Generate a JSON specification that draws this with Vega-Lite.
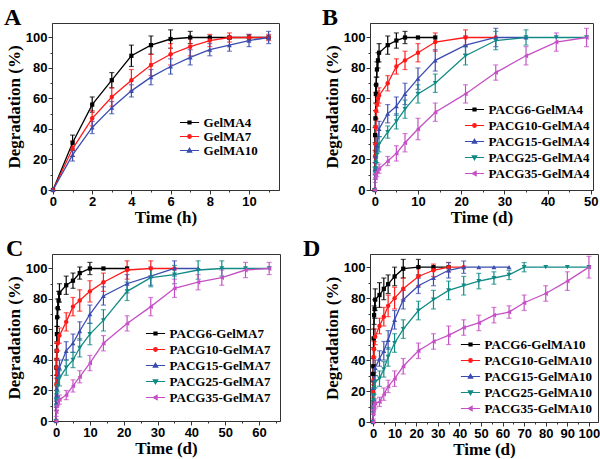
{
"$schema": "https://vega.github.io/schema/vega-lite/v6.json",
"padding": {"left": 3, "top": 5, "right": 0, "bottom": 0},
"background": "white",
"config": {
 "font": "Liberation Sans",
 "view": {"stroke": "#333", "strokeWidth": 1},
 "axis": {"grid": false, "labelFont": "Liberation Sans", "labelFontWeight": "bold", "labelFontSize": 13, "labelColor": "#000", "titleFont": "Liberation Serif", "titleFontWeight": "bold", "titleFontSize": 17, "titleColor": "#000", "domainColor": "#333", "tickColor": "#333", "labelPadding": 1, "titlePadding": 2, "labelOverlap": false, "labelFlush": false},
 "axisX": {"titlePadding": 1},
 "title": {"font": "Liberation Serif", "fontSize": 24, "fontWeight": "bold", "anchor": "start", "frame": "group", "offset": -7, "color": "#000"},
 "legend": {"orient": "none", "symbolSize": 64, "symbolStrokeWidth": 1.2, "labelOffset": 7.6, "padding": 0, "symbolOpacity": 1, "labelFont": "Liberation Serif", "labelFontWeight": "bold", "labelFontSize": 13, "labelColor": "#000"}
},
"resolve": {"scale": {"color": "independent", "fill": "independent", "stroke": "independent", "shape": "independent"}, "legend": {"color": "independent", "fill": "independent", "stroke": "independent", "shape": "independent"}},
"datasets": {
 "A": [
  {"s":"GelMA4","x":0,"y":0,"e":0},{"s":"GelMA4","x":1,"y":31,"e":5},{"s":"GelMA4","x":2,"y":56,"e":5},{"s":"GelMA4","x":3,"y":72,"e":5},{"s":"GelMA4","x":4,"y":88,"e":7},{"s":"GelMA4","x":5,"y":95,"e":6},{"s":"GelMA4","x":6,"y":99,"e":6},{"s":"GelMA4","x":7,"y":100,"e":4},{"s":"GelMA4","x":8,"y":100,"e":0},{"s":"GelMA4","x":9,"y":100,"e":0},{"s":"GelMA4","x":10,"y":100,"e":0},{"s":"GelMA4","x":11,"y":100,"e":0},
  {"s":"GelMA7","x":0,"y":0,"e":0},{"s":"GelMA7","x":1,"y":27,"e":5},{"s":"GelMA7","x":2,"y":47,"e":5},{"s":"GelMA7","x":3,"y":61,"e":6},{"s":"GelMA7","x":4,"y":72,"e":7},{"s":"GelMA7","x":5,"y":82,"e":7},{"s":"GelMA7","x":6,"y":89,"e":7},{"s":"GelMA7","x":7,"y":94,"e":6},{"s":"GelMA7","x":8,"y":98,"e":4},{"s":"GelMA7","x":9,"y":100,"e":3},{"s":"GelMA7","x":10,"y":100,"e":2},{"s":"GelMA7","x":11,"y":100,"e":2},
  {"s":"GelMA10","x":0,"y":0,"e":0},{"s":"GelMA10","x":1,"y":23,"e":4},{"s":"GelMA10","x":2,"y":41,"e":4},{"s":"GelMA10","x":3,"y":54,"e":4},{"s":"GelMA10","x":4,"y":65,"e":4},{"s":"GelMA10","x":5,"y":74,"e":5},{"s":"GelMA10","x":6,"y":81,"e":5},{"s":"GelMA10","x":7,"y":87,"e":5},{"s":"GelMA10","x":8,"y":92,"e":4},{"s":"GelMA10","x":9,"y":95,"e":4},{"s":"GelMA10","x":10,"y":98,"e":4},{"s":"GelMA10","x":11,"y":100,"e":4}
 ],
 "B": [
  {"s":"PACG6-GelMA4","x":0,"y":0,"e":0},{"s":"PACG6-GelMA4","x":0.08,"y":36,"e":5},{"s":"PACG6-GelMA4","x":0.17,"y":47,"e":5},{"s":"PACG6-GelMA4","x":0.25,"y":63,"e":6},{"s":"PACG6-GelMA4","x":0.33,"y":69,"e":5},{"s":"PACG6-GelMA4","x":0.5,"y":79,"e":5},{"s":"PACG6-GelMA4","x":0.75,"y":85,"e":5},{"s":"PACG6-GelMA4","x":1,"y":90,"e":6},{"s":"PACG6-GelMA4","x":3,"y":95,"e":6},{"s":"PACG6-GelMA4","x":5,"y":98,"e":5},{"s":"PACG6-GelMA4","x":7,"y":100,"e":4},{"s":"PACG6-GelMA4","x":10,"y":100,"e":0},{"s":"PACG6-GelMA4","x":14,"y":100,"e":0},
  {"s":"PACG10-GelMA4","x":0,"y":0,"e":0},{"s":"PACG10-GelMA4","x":0.08,"y":22,"e":4},{"s":"PACG10-GelMA4","x":0.17,"y":30,"e":5},{"s":"PACG10-GelMA4","x":0.25,"y":41,"e":5},{"s":"PACG10-GelMA4","x":0.33,"y":52,"e":5},{"s":"PACG10-GelMA4","x":0.5,"y":56,"e":5},{"s":"PACG10-GelMA4","x":0.75,"y":60,"e":5},{"s":"PACG10-GelMA4","x":1,"y":62,"e":5},{"s":"PACG10-GelMA4","x":3,"y":70,"e":5},{"s":"PACG10-GelMA4","x":5,"y":81,"e":5},{"s":"PACG10-GelMA4","x":7,"y":85,"e":6},{"s":"PACG10-GelMA4","x":10,"y":90,"e":6},{"s":"PACG10-GelMA4","x":14,"y":97,"e":6},{"s":"PACG10-GelMA4","x":21,"y":100,"e":5},{"s":"PACG10-GelMA4","x":28,"y":100,"e":0},
  {"s":"PACG15-GelMA4","x":0,"y":0,"e":0},{"s":"PACG15-GelMA4","x":0.08,"y":14,"e":4},{"s":"PACG15-GelMA4","x":0.17,"y":19,"e":4},{"s":"PACG15-GelMA4","x":0.25,"y":22,"e":4},{"s":"PACG15-GelMA4","x":0.5,"y":29,"e":5},{"s":"PACG15-GelMA4","x":1,"y":40,"e":5},{"s":"PACG15-GelMA4","x":3,"y":50,"e":6},{"s":"PACG15-GelMA4","x":5,"y":55,"e":6},{"s":"PACG15-GelMA4","x":7,"y":63,"e":7},{"s":"PACG15-GelMA4","x":10,"y":73,"e":7},{"s":"PACG15-GelMA4","x":14,"y":85,"e":7},{"s":"PACG15-GelMA4","x":21,"y":95,"e":6},{"s":"PACG15-GelMA4","x":28,"y":100,"e":6},{"s":"PACG15-GelMA4","x":35,"y":100,"e":0},
  {"s":"PACG25-GelMA4","x":0,"y":0,"e":0},{"s":"PACG25-GelMA4","x":0.08,"y":11,"e":4},{"s":"PACG25-GelMA4","x":0.17,"y":14,"e":4},{"s":"PACG25-GelMA4","x":0.25,"y":18,"e":4},{"s":"PACG25-GelMA4","x":0.5,"y":23,"e":5},{"s":"PACG25-GelMA4","x":1,"y":30,"e":5},{"s":"PACG25-GelMA4","x":3,"y":38,"e":4},{"s":"PACG25-GelMA4","x":5,"y":45,"e":5},{"s":"PACG25-GelMA4","x":7,"y":53,"e":6},{"s":"PACG25-GelMA4","x":10,"y":63,"e":6},{"s":"PACG25-GelMA4","x":14,"y":70,"e":6},{"s":"PACG25-GelMA4","x":21,"y":88,"e":6},{"s":"PACG25-GelMA4","x":28,"y":98,"e":6},{"s":"PACG25-GelMA4","x":35,"y":100,"e":5},{"s":"PACG25-GelMA4","x":42,"y":100,"e":0},{"s":"PACG25-GelMA4","x":49,"y":100,"e":0},
  {"s":"PACG35-GelMA4","x":0,"y":0,"e":0},{"s":"PACG35-GelMA4","x":0.08,"y":8,"e":3},{"s":"PACG35-GelMA4","x":0.17,"y":10,"e":3},{"s":"PACG35-GelMA4","x":0.25,"y":11,"e":3},{"s":"PACG35-GelMA4","x":0.5,"y":12,"e":3},{"s":"PACG35-GelMA4","x":1,"y":14,"e":3},{"s":"PACG35-GelMA4","x":3,"y":19,"e":3},{"s":"PACG35-GelMA4","x":5,"y":24,"e":5},{"s":"PACG35-GelMA4","x":7,"y":31,"e":6},{"s":"PACG35-GelMA4","x":10,"y":40,"e":7},{"s":"PACG35-GelMA4","x":14,"y":51,"e":6},{"s":"PACG35-GelMA4","x":21,"y":63,"e":6},{"s":"PACG35-GelMA4","x":28,"y":77,"e":5},{"s":"PACG35-GelMA4","x":35,"y":88,"e":6},{"s":"PACG35-GelMA4","x":42,"y":97,"e":6},{"s":"PACG35-GelMA4","x":49,"y":100,"e":6}
 ],
 "C": [
  {"s":"PACG6-GelMA7","x":0,"y":0,"e":0},{"s":"PACG6-GelMA7","x":0.08,"y":35,"e":5},{"s":"PACG6-GelMA7","x":0.17,"y":46,"e":5},{"s":"PACG6-GelMA7","x":0.25,"y":57,"e":5},{"s":"PACG6-GelMA7","x":0.33,"y":68,"e":6},{"s":"PACG6-GelMA7","x":0.5,"y":74,"e":6},{"s":"PACG6-GelMA7","x":0.75,"y":79,"e":6},{"s":"PACG6-GelMA7","x":1,"y":84,"e":6},{"s":"PACG6-GelMA7","x":3,"y":89,"e":6},{"s":"PACG6-GelMA7","x":5,"y":92,"e":5},{"s":"PACG6-GelMA7","x":7,"y":97,"e":4},{"s":"PACG6-GelMA7","x":10,"y":100,"e":4},{"s":"PACG6-GelMA7","x":14,"y":100,"e":0},{"s":"PACG6-GelMA7","x":21,"y":100,"e":0},
  {"s":"PACG10-GelMA7","x":0,"y":0,"e":0},{"s":"PACG10-GelMA7","x":0.08,"y":24,"e":4},{"s":"PACG10-GelMA7","x":0.17,"y":35,"e":5},{"s":"PACG10-GelMA7","x":0.25,"y":46,"e":5},{"s":"PACG10-GelMA7","x":0.5,"y":51,"e":5},{"s":"PACG10-GelMA7","x":1,"y":56,"e":5},{"s":"PACG10-GelMA7","x":3,"y":65,"e":6},{"s":"PACG10-GelMA7","x":5,"y":75,"e":6},{"s":"PACG10-GelMA7","x":7,"y":79,"e":7},{"s":"PACG10-GelMA7","x":10,"y":85,"e":7},{"s":"PACG10-GelMA7","x":14,"y":91,"e":6},{"s":"PACG10-GelMA7","x":21,"y":99,"e":6},{"s":"PACG10-GelMA7","x":28,"y":100,"e":5},{"s":"PACG10-GelMA7","x":35,"y":100,"e":0},
  {"s":"PACG15-GelMA7","x":0,"y":0,"e":0},{"s":"PACG15-GelMA7","x":0.08,"y":12,"e":3},{"s":"PACG15-GelMA7","x":0.17,"y":17,"e":3},{"s":"PACG15-GelMA7","x":0.25,"y":21,"e":4},{"s":"PACG15-GelMA7","x":0.5,"y":29,"e":5},{"s":"PACG15-GelMA7","x":1,"y":35,"e":5},{"s":"PACG15-GelMA7","x":3,"y":46,"e":6},{"s":"PACG15-GelMA7","x":5,"y":51,"e":6},{"s":"PACG15-GelMA7","x":7,"y":59,"e":6},{"s":"PACG15-GelMA7","x":10,"y":70,"e":6},{"s":"PACG15-GelMA7","x":14,"y":82,"e":6},{"s":"PACG15-GelMA7","x":21,"y":90,"e":6},{"s":"PACG15-GelMA7","x":28,"y":95,"e":6},{"s":"PACG15-GelMA7","x":35,"y":100,"e":5},{"s":"PACG15-GelMA7","x":42,"y":100,"e":0},
  {"s":"PACG25-GelMA7","x":0,"y":0,"e":0},{"s":"PACG25-GelMA7","x":0.08,"y":10,"e":3},{"s":"PACG25-GelMA7","x":0.17,"y":14,"e":4},{"s":"PACG25-GelMA7","x":0.25,"y":19,"e":4},{"s":"PACG25-GelMA7","x":0.5,"y":23,"e":4},{"s":"PACG25-GelMA7","x":1,"y":28,"e":5},{"s":"PACG25-GelMA7","x":3,"y":35,"e":5},{"s":"PACG25-GelMA7","x":5,"y":40,"e":5},{"s":"PACG25-GelMA7","x":7,"y":48,"e":6},{"s":"PACG25-GelMA7","x":10,"y":57,"e":7},{"s":"PACG25-GelMA7","x":14,"y":66,"e":7},{"s":"PACG25-GelMA7","x":21,"y":85,"e":6},{"s":"PACG25-GelMA7","x":28,"y":94,"e":6},{"s":"PACG25-GelMA7","x":35,"y":96,"e":6},{"s":"PACG25-GelMA7","x":42,"y":99,"e":6},{"s":"PACG25-GelMA7","x":49,"y":100,"e":5},{"s":"PACG25-GelMA7","x":56,"y":100,"e":0},{"s":"PACG25-GelMA7","x":63,"y":100,"e":0},
  {"s":"PACG35-GelMA7","x":0,"y":0,"e":0},{"s":"PACG35-GelMA7","x":0.08,"y":6,"e":3},{"s":"PACG35-GelMA7","x":0.17,"y":10,"e":3},{"s":"PACG35-GelMA7","x":0.5,"y":13,"e":3},{"s":"PACG35-GelMA7","x":1,"y":14,"e":3},{"s":"PACG35-GelMA7","x":3,"y":17,"e":3},{"s":"PACG35-GelMA7","x":5,"y":23,"e":4},{"s":"PACG35-GelMA7","x":7,"y":29,"e":4},{"s":"PACG35-GelMA7","x":10,"y":38,"e":5},{"s":"PACG35-GelMA7","x":14,"y":51,"e":5},{"s":"PACG35-GelMA7","x":21,"y":64,"e":5},{"s":"PACG35-GelMA7","x":28,"y":75,"e":6},{"s":"PACG35-GelMA7","x":35,"y":87,"e":6},{"s":"PACG35-GelMA7","x":42,"y":91,"e":5},{"s":"PACG35-GelMA7","x":49,"y":94,"e":5},{"s":"PACG35-GelMA7","x":56,"y":99,"e":5},{"s":"PACG35-GelMA7","x":63,"y":100,"e":4}
 ],
 "D": [
  {"s":"PACG6-GelMA10","x":0,"y":0,"e":0},{"s":"PACG6-GelMA10","x":0.08,"y":31,"e":5},{"s":"PACG6-GelMA10","x":0.17,"y":36,"e":5},{"s":"PACG6-GelMA10","x":0.25,"y":54,"e":6},{"s":"PACG6-GelMA10","x":0.5,"y":69,"e":6},{"s":"PACG6-GelMA10","x":0.75,"y":73,"e":6},{"s":"PACG6-GelMA10","x":1,"y":79,"e":7},{"s":"PACG6-GelMA10","x":3,"y":82,"e":8},{"s":"PACG6-GelMA10","x":5,"y":86,"e":7},{"s":"PACG6-GelMA10","x":7,"y":89,"e":6},{"s":"PACG6-GelMA10","x":10,"y":94,"e":6},{"s":"PACG6-GelMA10","x":14,"y":99,"e":6},{"s":"PACG6-GelMA10","x":21,"y":100,"e":5},{"s":"PACG6-GelMA10","x":28,"y":100,"e":0},{"s":"PACG6-GelMA10","x":35,"y":100,"e":0},
  {"s":"PACG10-GelMA10","x":0,"y":0,"e":0},{"s":"PACG10-GelMA10","x":0.08,"y":20,"e":4},{"s":"PACG10-GelMA10","x":0.17,"y":27,"e":5},{"s":"PACG10-GelMA10","x":0.25,"y":42,"e":5},{"s":"PACG10-GelMA10","x":0.5,"y":47,"e":5},{"s":"PACG10-GelMA10","x":1,"y":55,"e":5},{"s":"PACG10-GelMA10","x":3,"y":62,"e":5},{"s":"PACG10-GelMA10","x":5,"y":68,"e":6},{"s":"PACG10-GelMA10","x":7,"y":75,"e":7},{"s":"PACG10-GelMA10","x":10,"y":80,"e":7},{"s":"PACG10-GelMA10","x":14,"y":86,"e":7},{"s":"PACG10-GelMA10","x":21,"y":94,"e":6},{"s":"PACG10-GelMA10","x":28,"y":98,"e":4},{"s":"PACG10-GelMA10","x":35,"y":100,"e":3},{"s":"PACG10-GelMA10","x":42,"y":100,"e":0},
  {"s":"PACG15-GelMA10","x":0,"y":0,"e":0},{"s":"PACG15-GelMA10","x":0.08,"y":10,"e":3},{"s":"PACG15-GelMA10","x":0.17,"y":15,"e":4},{"s":"PACG15-GelMA10","x":0.25,"y":22,"e":4},{"s":"PACG15-GelMA10","x":0.5,"y":27,"e":5},{"s":"PACG15-GelMA10","x":1,"y":35,"e":5},{"s":"PACG15-GelMA10","x":3,"y":41,"e":5},{"s":"PACG15-GelMA10","x":5,"y":46,"e":6},{"s":"PACG15-GelMA10","x":7,"y":53,"e":6},{"s":"PACG15-GelMA10","x":10,"y":66,"e":6},{"s":"PACG15-GelMA10","x":14,"y":79,"e":6},{"s":"PACG15-GelMA10","x":21,"y":88,"e":5},{"s":"PACG15-GelMA10","x":28,"y":93,"e":5},{"s":"PACG15-GelMA10","x":35,"y":98,"e":5},{"s":"PACG15-GelMA10","x":42,"y":100,"e":4},{"s":"PACG15-GelMA10","x":49,"y":100,"e":0},{"s":"PACG15-GelMA10","x":56,"y":100,"e":0},{"s":"PACG15-GelMA10","x":63,"y":100,"e":0},
  {"s":"PACG25-GelMA10","x":0,"y":0,"e":0},{"s":"PACG25-GelMA10","x":0.08,"y":9,"e":3},{"s":"PACG25-GelMA10","x":0.17,"y":14,"e":3},{"s":"PACG25-GelMA10","x":0.25,"y":17,"e":4},{"s":"PACG25-GelMA10","x":0.5,"y":22,"e":4},{"s":"PACG25-GelMA10","x":1,"y":26,"e":4},{"s":"PACG25-GelMA10","x":3,"y":28,"e":5},{"s":"PACG25-GelMA10","x":5,"y":34,"e":5},{"s":"PACG25-GelMA10","x":7,"y":42,"e":6},{"s":"PACG25-GelMA10","x":10,"y":51,"e":6},{"s":"PACG25-GelMA10","x":14,"y":60,"e":6},{"s":"PACG25-GelMA10","x":21,"y":72,"e":6},{"s":"PACG25-GelMA10","x":28,"y":79,"e":6},{"s":"PACG25-GelMA10","x":35,"y":85,"e":6},{"s":"PACG25-GelMA10","x":42,"y":88,"e":6},{"s":"PACG25-GelMA10","x":49,"y":91,"e":5},{"s":"PACG25-GelMA10","x":56,"y":93,"e":4},{"s":"PACG25-GelMA10","x":63,"y":95,"e":3},{"s":"PACG25-GelMA10","x":70,"y":100,"e":3},{"s":"PACG25-GelMA10","x":80,"y":100,"e":0},{"s":"PACG25-GelMA10","x":90,"y":100,"e":0},{"s":"PACG25-GelMA10","x":100,"y":100,"e":0},
  {"s":"PACG35-GelMA10","x":0,"y":0,"e":0},{"s":"PACG35-GelMA10","x":0.08,"y":5,"e":3},{"s":"PACG35-GelMA10","x":0.17,"y":8,"e":3},{"s":"PACG35-GelMA10","x":0.25,"y":10,"e":3},{"s":"PACG35-GelMA10","x":0.5,"y":11,"e":3},{"s":"PACG35-GelMA10","x":1,"y":12,"e":3},{"s":"PACG35-GelMA10","x":3,"y":13,"e":3},{"s":"PACG35-GelMA10","x":5,"y":18,"e":4},{"s":"PACG35-GelMA10","x":7,"y":23,"e":4},{"s":"PACG35-GelMA10","x":10,"y":28,"e":5},{"s":"PACG35-GelMA10","x":14,"y":36,"e":5},{"s":"PACG35-GelMA10","x":21,"y":46,"e":5},{"s":"PACG35-GelMA10","x":28,"y":52,"e":5},{"s":"PACG35-GelMA10","x":35,"y":56,"e":6},{"s":"PACG35-GelMA10","x":42,"y":61,"e":5},{"s":"PACG35-GelMA10","x":49,"y":64,"e":5},{"s":"PACG35-GelMA10","x":56,"y":69,"e":5},{"s":"PACG35-GelMA10","x":63,"y":71,"e":4},{"s":"PACG35-GelMA10","x":70,"y":77,"e":5},{"s":"PACG35-GelMA10","x":80,"y":83,"e":5},{"s":"PACG35-GelMA10","x":90,"y":91,"e":6},{"s":"PACG35-GelMA10","x":100,"y":100,"e":7}
 ]
},
"bounds": "flush",
"columns": 2,
"spacing": {"row": 64, "column": 90},
"concat": [
 {
  "width": 227, "height": 167,
  "title": {"text": "A", "dx": -48},
  "data": {"name": "A"},
  "encoding": {
   "x": {"field": "x", "type": "quantitative", "scale": {"domain": [-0.05, 11.53], "nice": false, "zero": false}, "axis": {"title": "Time (h)", "values": [0,1,2,3,4,5,6,7,8,9,10,11], "labelExpr": "datum.value % 2 === 0 ? datum.label : ''", "tickSize": {"condition": {"test": "datum.value % 2 === 0", "value": 4}, "value": 2}}},
   "y": {"field": "y", "type": "quantitative", "scale": {"domain": [0, 109.5], "nice": false}, "axis": {"title": "Degradation (%)", "values": [0,10,20,30,40,50,60,70,80,90,100], "labelExpr": "datum.value % 20 === 0 ? datum.label : ''", "tickSize": {"condition": {"test": "datum.value % 20 === 0", "value": 4}, "value": 2}}}
  },
  "layer": [
   {"transform": [{"filter": "datum.e > 0"}], "mark": {"type": "errorbar", "ticks": {"size": 5}, "thickness": 1.2}, "encoding": {"yError": {"field": "e"}, "color": {"field": "s", "type": "nominal", "scale": {"domain": ["GelMA10","GelMA7","GelMA4"], "range": ["#3a4cb0","#ff1a1a","#000000"]}, "legend": null}}},
   {"mark": {"type": "line", "strokeWidth": 1.3}, "encoding": {"color": {"field": "s", "type": "nominal", "scale": {"domain": ["GelMA10","GelMA7","GelMA4"], "range": ["#3a4cb0","#ff1a1a","#000000"]}, "legend": null}}},
   {"transform": [{"filter": "datum.s === 'GelMA4'"}], "mark": {"type": "point", "shape": "square", "filled": true, "opacity": 1, "size": 18, "color": "#000000"}},
   {"transform": [{"filter": "datum.s === 'GelMA7'"}], "mark": {"type": "point", "shape": "circle", "filled": true, "opacity": 1, "size": 20, "color": "#ff1a1a"}},
   {"transform": [{"filter": "datum.s === 'GelMA10'"}], "mark": {"type": "point", "shape": "triangle-up", "filled": true, "opacity": 1, "size": 24, "color": "#3a4cb0"}},
   {"mark": {"type": "point", "filled": true, "size": 0, "strokeWidth": 0},
    "encoding": {
     "fill": {"field": "s", "type": "nominal", "scale": {"domain": ["GelMA4","GelMA7","GelMA10"], "range": ["#000000","#ff1a1a","#3a4cb0"]}, "legend": {"title": null, "orient": "none", "legendX": 131, "legendY": 93, "rowPadding": -2.5}},
     "stroke": {"field": "s", "type": "nominal", "scale": {"domain": ["GelMA4","GelMA7","GelMA10"], "range": ["#000000","#ff1a1a","#3a4cb0"]}, "legend": {"title": null, "orient": "none", "legendX": 131, "legendY": 93, "rowPadding": -2.5}},
     "shape": {"field": "s", "type": "nominal", "scale": {"domain": ["GelMA4","GelMA7","GelMA10"], "range": ["M-2.4,0H2.4M-0.38,-0.38H0.38V0.38H-0.38Z","M-2.4,0H2.4M0.45,0A0.45,0.45,0,1,1,-0.45,0A0.45,0.45,0,1,1,0.45,0Z","M-2.4,0H2.4M0,-0.55L0.55,0.4H-0.55Z"]}, "legend": {"title": null, "orient": "none", "legendX": 131, "legendY": 93, "rowPadding": -2.5}}
    }}
  ]
 },
 {
  "width": 223, "height": 167,
  "title": {"text": "B", "dx": -48},
  "data": {"name": "B"},
  "encoding": {
   "x": {"field": "x", "type": "quantitative", "scale": {"domain": [-1.1, 50.5], "nice": false, "zero": false}, "axis": {"title": "Time (d)", "values": [0,5,10,15,20,25,30,35,40,45,50], "labelExpr": "datum.value % 10 === 0 ? datum.label : ''", "tickSize": {"condition": {"test": "datum.value % 10 === 0", "value": 4}, "value": 2}}},
   "y": {"field": "y", "type": "quantitative", "scale": {"domain": [0, 109.5], "nice": false}, "axis": {"title": "Degradation (%)", "values": [0,10,20,30,40,50,60,70,80,90,100], "labelExpr": "datum.value % 20 === 0 ? datum.label : ''", "tickSize": {"condition": {"test": "datum.value % 20 === 0", "value": 4}, "value": 2}}}
  },
  "layer": [
   {"transform": [{"filter": "datum.e > 0"}], "mark": {"type": "errorbar", "ticks": {"size": 5}, "thickness": 1.2}, "encoding": {"yError": {"field": "e"}, "color": {"field": "s", "type": "nominal", "scale": {"domain": ["PACG35-GelMA4","PACG25-GelMA4","PACG15-GelMA4","PACG10-GelMA4","PACG6-GelMA4"], "range": ["#c550c5","#118a85","#3a4cb0","#ff1a1a","#000000"]}, "legend": null}}},
   {"mark": {"type": "line", "strokeWidth": 1.3}, "encoding": {"color": {"field": "s", "type": "nominal", "scale": {"domain": ["PACG35-GelMA4","PACG25-GelMA4","PACG15-GelMA4","PACG10-GelMA4","PACG6-GelMA4"], "range": ["#c550c5","#118a85","#3a4cb0","#ff1a1a","#000000"]}, "legend": null}}},
   {"transform": [{"filter": "datum.s === 'PACG6-GelMA4'"}], "mark": {"type": "point", "shape": "square", "filled": true, "opacity": 1, "size": 18, "color": "#000000"}},
   {"transform": [{"filter": "datum.s === 'PACG10-GelMA4'"}], "mark": {"type": "point", "shape": "circle", "filled": true, "opacity": 1, "size": 20, "color": "#ff1a1a"}},
   {"transform": [{"filter": "datum.s === 'PACG15-GelMA4'"}], "mark": {"type": "point", "shape": "triangle-up", "filled": true, "opacity": 1, "size": 24, "color": "#3a4cb0"}},
   {"transform": [{"filter": "datum.s === 'PACG25-GelMA4'"}], "mark": {"type": "point", "shape": "triangle-down", "filled": true, "opacity": 1, "size": 24, "color": "#118a85"}},
   {"transform": [{"filter": "datum.s === 'PACG35-GelMA4'"}], "mark": {"type": "point", "shape": "triangle-left", "filled": true, "opacity": 1, "size": 24, "color": "#c550c5"}},
   {"mark": {"type": "point", "filled": true, "size": 0, "strokeWidth": 0},
    "encoding": {
     "fill": {"field": "s", "type": "nominal", "scale": {"domain": ["PACG6-GelMA4","PACG10-GelMA4","PACG15-GelMA4","PACG25-GelMA4","PACG35-GelMA4"], "range": ["#000000","#ff1a1a","#3a4cb0","#118a85","#c550c5"]}, "legend": {"title": null, "orient": "none", "legendX": 98, "legendY": 80, "rowPadding": 2}},
     "stroke": {"field": "s", "type": "nominal", "scale": {"domain": ["PACG6-GelMA4","PACG10-GelMA4","PACG15-GelMA4","PACG25-GelMA4","PACG35-GelMA4"], "range": ["#000000","#ff1a1a","#3a4cb0","#118a85","#c550c5"]}, "legend": {"title": null, "orient": "none", "legendX": 98, "legendY": 80, "rowPadding": 2}},
     "shape": {"field": "s", "type": "nominal", "scale": {"domain": ["PACG6-GelMA4","PACG10-GelMA4","PACG15-GelMA4","PACG25-GelMA4","PACG35-GelMA4"], "range": ["M-2.4,0H2.4M-0.38,-0.38H0.38V0.38H-0.38Z","M-2.4,0H2.4M0.45,0A0.45,0.45,0,1,1,-0.45,0A0.45,0.45,0,1,1,0.45,0Z","M-2.4,0H2.4M0,-0.55L0.55,0.4H-0.55Z","M-2.4,0H2.4M0,0.55L0.55,-0.4H-0.55Z","M-2.4,0H2.4M-0.55,0L0.4,-0.55V0.55Z"]}, "legend": {"title": null, "orient": "none", "legendX": 98, "legendY": 80, "rowPadding": 2}}
    }}
  ]
 },
 {
  "width": 228, "height": 167,
  "title": {"text": "C", "dx": -46},
  "data": {"name": "C"},
  "encoding": {
   "x": {"field": "x", "type": "quantitative", "scale": {"domain": [-1.2, 66.2], "nice": false, "zero": false}, "axis": {"title": "Time (d)", "values": [0,5,10,15,20,25,30,35,40,45,50,55,60,65], "labelExpr": "datum.value % 10 === 0 ? datum.label : ''", "tickSize": {"condition": {"test": "datum.value % 10 === 0", "value": 4}, "value": 2}}},
   "y": {"field": "y", "type": "quantitative", "scale": {"domain": [0, 109.5], "nice": false}, "axis": {"title": "Degradation (%)", "values": [0,10,20,30,40,50,60,70,80,90,100], "labelExpr": "datum.value % 20 === 0 ? datum.label : ''", "tickSize": {"condition": {"test": "datum.value % 20 === 0", "value": 4}, "value": 2}}}
  },
  "layer": [
   {"transform": [{"filter": "datum.e > 0"}], "mark": {"type": "errorbar", "ticks": {"size": 5}, "thickness": 1.2}, "encoding": {"yError": {"field": "e"}, "color": {"field": "s", "type": "nominal", "scale": {"domain": ["PACG35-GelMA7","PACG25-GelMA7","PACG15-GelMA7","PACG10-GelMA7","PACG6-GelMA7"], "range": ["#c550c5","#118a85","#3a4cb0","#ff1a1a","#000000"]}, "legend": null}}},
   {"mark": {"type": "line", "strokeWidth": 1.3}, "encoding": {"color": {"field": "s", "type": "nominal", "scale": {"domain": ["PACG35-GelMA7","PACG25-GelMA7","PACG15-GelMA7","PACG10-GelMA7","PACG6-GelMA7"], "range": ["#c550c5","#118a85","#3a4cb0","#ff1a1a","#000000"]}, "legend": null}}},
   {"transform": [{"filter": "datum.s === 'PACG6-GelMA7'"}], "mark": {"type": "point", "shape": "square", "filled": true, "opacity": 1, "size": 18, "color": "#000000"}},
   {"transform": [{"filter": "datum.s === 'PACG10-GelMA7'"}], "mark": {"type": "point", "shape": "circle", "filled": true, "opacity": 1, "size": 20, "color": "#ff1a1a"}},
   {"transform": [{"filter": "datum.s === 'PACG15-GelMA7'"}], "mark": {"type": "point", "shape": "triangle-up", "filled": true, "opacity": 1, "size": 24, "color": "#3a4cb0"}},
   {"transform": [{"filter": "datum.s === 'PACG25-GelMA7'"}], "mark": {"type": "point", "shape": "triangle-down", "filled": true, "opacity": 1, "size": 24, "color": "#118a85"}},
   {"transform": [{"filter": "datum.s === 'PACG35-GelMA7'"}], "mark": {"type": "point", "shape": "triangle-left", "filled": true, "opacity": 1, "size": 24, "color": "#c550c5"}},
   {"mark": {"type": "point", "filled": true, "size": 0, "strokeWidth": 0},
    "encoding": {
     "fill": {"field": "s", "type": "nominal", "scale": {"domain": ["PACG6-GelMA7","PACG10-GelMA7","PACG15-GelMA7","PACG25-GelMA7","PACG35-GelMA7"], "range": ["#000000","#ff1a1a","#3a4cb0","#118a85","#c550c5"]}, "legend": {"title": null, "orient": "none", "legendX": 97, "legendY": 73, "rowPadding": 2}},
     "stroke": {"field": "s", "type": "nominal", "scale": {"domain": ["PACG6-GelMA7","PACG10-GelMA7","PACG15-GelMA7","PACG25-GelMA7","PACG35-GelMA7"], "range": ["#000000","#ff1a1a","#3a4cb0","#118a85","#c550c5"]}, "legend": {"title": null, "orient": "none", "legendX": 97, "legendY": 73, "rowPadding": 2}},
     "shape": {"field": "s", "type": "nominal", "scale": {"domain": ["PACG6-GelMA7","PACG10-GelMA7","PACG15-GelMA7","PACG25-GelMA7","PACG35-GelMA7"], "range": ["M-2.4,0H2.4M-0.38,-0.38H0.38V0.38H-0.38Z","M-2.4,0H2.4M0.45,0A0.45,0.45,0,1,1,-0.45,0A0.45,0.45,0,1,1,0.45,0Z","M-2.4,0H2.4M0,-0.55L0.55,0.4H-0.55Z","M-2.4,0H2.4M0,0.55L0.55,-0.4H-0.55Z","M-2.4,0H2.4M-0.55,0L0.4,-0.55V0.55Z"]}, "legend": {"title": null, "orient": "none", "legendX": 97, "legendY": 73, "rowPadding": 2}}
    }}
  ]
 },
 {
  "width": 228, "height": 168,
  "title": {"text": "D", "dx": -67},
  "data": {"name": "D"},
  "encoding": {
   "x": {"field": "x", "type": "quantitative", "scale": {"domain": [-1.4, 104.2], "nice": false, "zero": false}, "axis": {"title": "Time (d)", "values": [0,5,10,15,20,25,30,35,40,45,50,55,60,65,70,75,80,85,90,95,100], "labelExpr": "datum.value % 10 === 0 ? datum.label : ''", "tickSize": {"condition": {"test": "datum.value % 10 === 0", "value": 4}, "value": 2}}},
   "y": {"field": "y", "type": "quantitative", "scale": {"domain": [0, 108.5], "nice": false}, "axis": {"title": "Degradation (%)", "values": [0,10,20,30,40,50,60,70,80,90,100], "labelExpr": "datum.value % 20 === 0 ? datum.label : ''", "tickSize": {"condition": {"test": "datum.value % 20 === 0", "value": 4}, "value": 2}}}
  },
  "layer": [
   {"transform": [{"filter": "datum.e > 0"}], "mark": {"type": "errorbar", "ticks": {"size": 5}, "thickness": 1.2}, "encoding": {"yError": {"field": "e"}, "color": {"field": "s", "type": "nominal", "scale": {"domain": ["PACG35-GelMA10","PACG25-GelMA10","PACG15-GelMA10","PACG10-GelMA10","PACG6-GelMA10"], "range": ["#c550c5","#118a85","#3a4cb0","#ff1a1a","#000000"]}, "legend": null}}},
   {"mark": {"type": "line", "strokeWidth": 1.3}, "encoding": {"color": {"field": "s", "type": "nominal", "scale": {"domain": ["PACG35-GelMA10","PACG25-GelMA10","PACG15-GelMA10","PACG10-GelMA10","PACG6-GelMA10"], "range": ["#c550c5","#118a85","#3a4cb0","#ff1a1a","#000000"]}, "legend": null}}},
   {"transform": [{"filter": "datum.s === 'PACG6-GelMA10'"}], "mark": {"type": "point", "shape": "square", "filled": true, "opacity": 1, "size": 18, "color": "#000000"}},
   {"transform": [{"filter": "datum.s === 'PACG10-GelMA10'"}], "mark": {"type": "point", "shape": "circle", "filled": true, "opacity": 1, "size": 20, "color": "#ff1a1a"}},
   {"transform": [{"filter": "datum.s === 'PACG15-GelMA10'"}], "mark": {"type": "point", "shape": "triangle-up", "filled": true, "opacity": 1, "size": 24, "color": "#3a4cb0"}},
   {"transform": [{"filter": "datum.s === 'PACG25-GelMA10'"}], "mark": {"type": "point", "shape": "triangle-down", "filled": true, "opacity": 1, "size": 24, "color": "#118a85"}},
   {"transform": [{"filter": "datum.s === 'PACG35-GelMA10'"}], "mark": {"type": "point", "shape": "triangle-left", "filled": true, "opacity": 1, "size": 24, "color": "#c550c5"}},
   {"mark": {"type": "point", "filled": true, "size": 0, "strokeWidth": 0},
    "encoding": {
     "fill": {"field": "s", "type": "nominal", "scale": {"domain": ["PACG6-GelMA10","PACG10-GelMA10","PACG15-GelMA10","PACG25-GelMA10","PACG35-GelMA10"], "range": ["#000000","#ff1a1a","#3a4cb0","#118a85","#c550c5"]}, "legend": {"title": null, "orient": "none", "legendX": 94, "legendY": 84, "rowPadding": 2}},
     "stroke": {"field": "s", "type": "nominal", "scale": {"domain": ["PACG6-GelMA10","PACG10-GelMA10","PACG15-GelMA10","PACG25-GelMA10","PACG35-GelMA10"], "range": ["#000000","#ff1a1a","#3a4cb0","#118a85","#c550c5"]}, "legend": {"title": null, "orient": "none", "legendX": 94, "legendY": 84, "rowPadding": 2}},
     "shape": {"field": "s", "type": "nominal", "scale": {"domain": ["PACG6-GelMA10","PACG10-GelMA10","PACG15-GelMA10","PACG25-GelMA10","PACG35-GelMA10"], "range": ["M-2.4,0H2.4M-0.38,-0.38H0.38V0.38H-0.38Z","M-2.4,0H2.4M0.45,0A0.45,0.45,0,1,1,-0.45,0A0.45,0.45,0,1,1,0.45,0Z","M-2.4,0H2.4M0,-0.55L0.55,0.4H-0.55Z","M-2.4,0H2.4M0,0.55L0.55,-0.4H-0.55Z","M-2.4,0H2.4M-0.55,0L0.4,-0.55V0.55Z"]}, "legend": {"title": null, "orient": "none", "legendX": 94, "legendY": 84, "rowPadding": 2}}
    }}
  ]
 }
]
}
